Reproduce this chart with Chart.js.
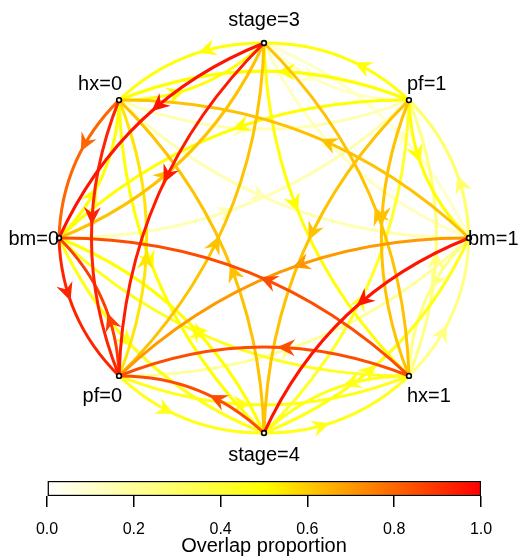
<!DOCTYPE html>
<html>
<head>
<meta charset="utf-8">
<script src="https://cdn.jsdelivr.net/npm/chart.js@4.4.1/dist/chart.umd.min.js"></script>
<style>
  html, body { margin: 0; padding: 0; background: #ffffff; }
  #wrap { position: relative; width: 519px; height: 560px; overflow: hidden; }
  canvas { display: block; }
  #netBox { position: absolute; left: 0; top: 0; width: 519px; height: 478px; }
  #barBox { position: absolute; left: 0; top: 460px; width: 519px; height: 100px; }
</style>
</head>
<body>
<div id="wrap">
  <div id="netBox"><canvas id="net" width="519" height="478"></canvas></div>
  <div id="barBox"><canvas id="bar" width="519" height="100"></canvas></div>
</div>
<script>
// Nodes on the unit circle (clockwise from the top)
const nodeLabels = ["stage=3", "pf=1", "bm=1", "hx=1", "stage=4", "pf=0", "bm=0", "hx=0"];
const nodeX = [0, 0.7071, 1, 0.7071, 0, -0.7071, -1, -0.7071];
const nodeY = [1, 0.7071, 0, -0.7071, -1, -0.7071, 0, 0.7071];

// Directed edges: source index, target index, overlap proportion
const edgeFrom = [0, 1, 1, 2, 2, 3, 3, 4, 4, 5, 5, 6, 6, 7, 7, 0,
                  0, 2, 1, 3, 2, 4, 3, 5, 4, 6, 5, 7, 6, 0, 7, 1,
                  0, 3, 1, 4, 2, 5, 3, 6, 4, 7, 5, 0, 6, 1, 7, 2];
const edgeTo   = [1, 0, 2, 1, 3, 2, 4, 3, 5, 4, 6, 5, 7, 6, 0, 7,
                  2, 0, 3, 1, 4, 2, 5, 3, 6, 4, 7, 5, 0, 6, 1, 7,
                  3, 0, 4, 1, 5, 2, 6, 3, 7, 4, 0, 5, 1, 6, 2, 7];
const overlap  = [0.12, 0.48, 0.50, 0.30, 0.25, 0.25, 0.45, 0.45, 0.85, 0.45, 0.88, 0.93, 0.50, 0.80, 0.50, 0.48,
                  0.12, 0.10, 0.62, 0.25, 0.96, 0.45, 0.85, 0.45, 0.50, 0.45, 0.55, 0.93, 0.62, 0.96, 0.15, 0.50,
                  0.50, 0.62, 0.62, 0.42, 0.70, 0.20, 0.85, 0.45, 0.62, 0.50, 0.62, 0.95, 0.15, 0.50, 0.15, 0.62];

// Colour bar tick values
const colorTicks = [0, 0.2, 0.4, 0.6, 0.8, 1.0];

const FONT = "'Liberation Sans', Arial, Helvetica, sans-serif";
Chart.defaults.font.family = FONT;

// white -> yellow -> red ramp
function heat(v) {
  v = Math.max(0, Math.min(1, v));
  if (v <= 0.5) {
    const b = Math.round(255 * (1 - v / 0.5));
    return 'rgb(255,255,' + b + ')';
  }
  const g = Math.round(255 * (1 - (v - 0.5) / 0.5));
  return 'rgb(255,' + g + ',0)';
}

const CURVE = 0.2;       // control-point offset relative to edge length
const ARROW_BACK = 13;   // arrow tip sits this far before the curve midpoint
const ARROW_LEN = 18, ARROW_HALF = 8.5, ARROW_NOTCH = 12;

const edgePlugin = {
  id: 'curvedEdges',
  beforeDatasetsDraw(chart) {
    const ctx = chart.ctx;
    const xs = chart.scales.x, ys = chart.scales.y;
    const order = overlap.map((v, i) => i).sort((a, b) => overlap[a] - overlap[b]);
    ctx.save();
    for (const i of order) {
      const ax = xs.getPixelForValue(nodeX[edgeFrom[i]]);
      const ay = ys.getPixelForValue(nodeY[edgeFrom[i]]);
      const bx = xs.getPixelForValue(nodeX[edgeTo[i]]);
      const by = ys.getPixelForValue(nodeY[edgeTo[i]]);
      const dx = bx - ax, dy = by - ay;
      const L = Math.hypot(dx, dy);
      // bend to the right of the direction of travel
      const cx = (ax + bx) / 2 - CURVE * dy;
      const cy = (ay + by) / 2 + CURVE * dx;
      const col = heat(overlap[i]);
      ctx.strokeStyle = col;
      ctx.fillStyle = col;
      ctx.lineWidth = 3;
      ctx.lineCap = 'butt';
      ctx.beginPath();
      ctx.moveTo(ax, ay);
      ctx.quadraticCurveTo(cx, cy, bx, by);
      ctx.stroke();

      const t = 0.5 - ARROW_BACK / L;
      const u = 1 - t;
      const px = u * u * ax + 2 * u * t * cx + t * t * bx;
      const py = u * u * ay + 2 * u * t * cy + t * t * by;
      const tx = 2 * u * (cx - ax) + 2 * t * (bx - cx);
      const ty = 2 * u * (cy - ay) + 2 * t * (by - cy);
      const ang = Math.atan2(ty, tx);
      ctx.save();
      ctx.translate(px, py);
      ctx.rotate(ang);
      ctx.beginPath();
      ctx.moveTo(0, 0);
      ctx.lineTo(-ARROW_LEN, ARROW_HALF);
      ctx.lineTo(-ARROW_NOTCH, 0);
      ctx.lineTo(-ARROW_LEN, -ARROW_HALF);
      ctx.closePath();
      ctx.fill();
      ctx.restore();
    }
    ctx.restore();
  }
};

const labelPlugin = {
  id: 'nodeLabels',
  afterDatasetsDraw(chart) {
    const ctx = chart.ctx;
    const xs = chart.scales.x, ys = chart.scales.y;
    ctx.save();
    ctx.font = '20px ' + FONT;
    ctx.fillStyle = '#000';
    ctx.textBaseline = 'alphabetic';
    nodeLabels.forEach((lab, i) => {
      const px = xs.getPixelForValue(nodeX[i]);
      const py = ys.getPixelForValue(nodeY[i]);
      let tx = px, ty = py;
      if (Math.abs(nodeX[i]) < 0.1) {
        ctx.textAlign = 'center';
        ty = nodeY[i] > 0 ? py - 17 : py + 28;
      } else if (Math.abs(nodeY[i]) < 0.1) {
        ctx.textAlign = nodeX[i] < 0 ? 'right' : 'left';
        tx = nodeX[i] < 0 ? px : px - 1;
        ty = py + 7;
      } else {
        ctx.textAlign = nodeX[i] < 0 ? 'right' : 'left';
        tx = nodeX[i] < 0 ? px + 3 : px - 2;
        ty = nodeY[i] > 0 ? py - 10 : py + 26;
      }
      ctx.fillText(lab, tx, ty);
    });
    ctx.restore();
  }
};

new Chart(document.getElementById('net'), {
  type: 'scatter',
  data: {
    datasets: [{
      data: nodeX.map((x, i) => ({ x: x, y: nodeY[i] })),
      pointRadius: 2.4,
      pointBorderWidth: 1.6,
      pointBorderColor: '#000',
      pointBackgroundColor: '#fff',
      showLine: false,
      clip: false
    }]
  },
  options: {
    responsive: false,
    animation: false,
    events: [],
    layout: { padding: { left: 59, right: 50, top: 43, bottom: 45 } },
    scales: {
      x: { type: 'linear', display: false, min: -1, max: 1 },
      y: { type: 'linear', display: false, min: -1, max: 1 }
    },
    plugins: { legend: { display: false }, tooltip: { enabled: false } }
  },
  plugins: [edgePlugin, labelPlugin]
});

new Chart(document.getElementById('bar'), {
  type: 'bar',
  data: {
    labels: [''],
    datasets: [{
      data: [[0, 1]],
      backgroundColor: (c) => {
        const a = c.chart.chartArea;
        if (!a) return '#ffff00';
        const g = c.chart.ctx.createLinearGradient(a.left, 0, a.right, 0);
        g.addColorStop(0, heat(0));
        g.addColorStop(0.5, heat(0.5));
        g.addColorStop(1, heat(1));
        return g;
      },
      borderColor: '#000',
      borderWidth: 1.5,
      borderSkipped: false,
      barPercentage: 1,
      categoryPercentage: 1
    }]
  },
  options: {
    indexAxis: 'y',
    responsive: false,
    animation: false,
    events: [],
    layout: { padding: { left: 47, right: 38, top: 21, bottom: 0 } },
    plugins: { legend: { display: false }, tooltip: { enabled: false } },
    scales: {
      x: {
        type: 'linear',
        min: 0,
        max: 1,
        afterBuildTicks: (s) => { s.ticks = colorTicks.map(v => ({ value: v })); },
        afterFit: (s) => { s.height = 64; },
        ticks: {
          autoSkip: false,
          maxRotation: 0,
          padding: 13,
          color: '#000',
          font: { size: 16, family: FONT },
          callback: (v) => Number(v).toFixed(1)
        },
        grid: { drawOnChartArea: false, drawTicks: true, tickLength: 11, color: '#000', lineWidth: 1.5 },
        border: { display: false },
        title: {
          display: true,
          text: 'Overlap proportion',
          color: '#000',
          font: { size: 20, family: FONT },
          padding: { top: 0, bottom: 2 }
        }
      },
      y: { display: false }
    }
  }
});
</script>
</body>
</html>
